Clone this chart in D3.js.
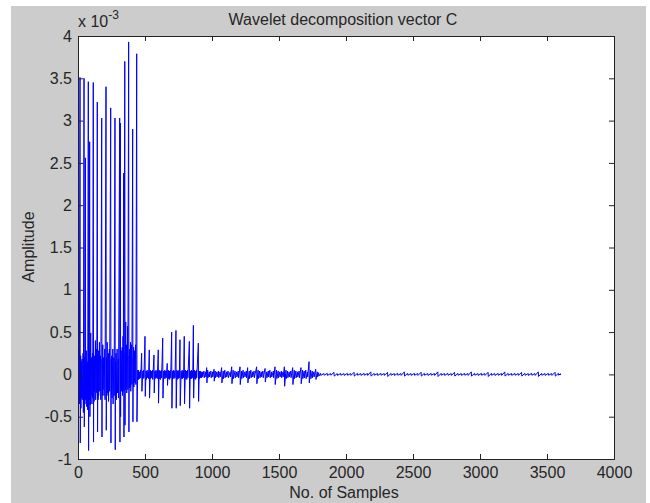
<!DOCTYPE html>
<html><head><meta charset="utf-8">
<script src="https://cdn.jsdelivr.net/npm/d3@7"></script>
<style>
html,body{margin:0;padding:0;background:#fff;}
svg text{font-family:"Liberation Sans",Arial,sans-serif;fill:#262626;}
</style></head>
<body><svg id="chart" width="650" height="503"></svg>
<script>
// ---- data: rows are [sample index, local max, local min], amplitude in units of 1e-3 ----
const xTicks = [0,500,1000,1500,2000,2500,3000,3500,4000];
const yTicks = [-1,-0.5,0,0.5,1,1.5,2,2.5,3,3.5,4];

// large approximation-coefficient spikes
const bigSpikes = [[15,3.51,-0.81],[45,3.50,-0.62],[55,2.56,-0.30],[77,3.46,-0.90],[87,2.75,-0.50],[114,3.45,-0.80],
  [144,3.22,-0.68],[177,3.03,-0.74],[209,3.40,-0.66],[244,3.15,-0.81],[276,3.03,-0.89],[311,3.03,-0.80],[316,2.97,-0.50],
  [341,2.38,-0.74],[349,3.70,-0.60],[378,3.93,-0.68],[408,2.90,-0.56],[438,3.79,-0.56]];

// medium spikes 450-900
const midSpikes = [[475,0.25,-0.20],[500,0.45,-0.26],[532,0.29,-0.28],[567,0.23,-0.22],[599,0.29,-0.34],[632,0.43,-0.28],
  [666,0.13,-0.13],[699,0.50,-0.40],[731,0.52,-0.40],[761,0.41,-0.37],[793,0.45,-0.35],[831,0.39,-0.40],[861,0.58,-0.28],[898,0.37,-0.32]];

// small spikes 900-1800
const smallSpikes = [[960,0.08,-0.10],[1015,0.06,-0.08],[1072,0.08,-0.10],[1147,0.09,-0.11],[1209,0.09,-0.12],[1266,0.08,-0.10],
  [1333,0.09,-0.11],[1396,0.07,-0.09],[1470,0.09,-0.12],[1540,0.09,-0.14],[1602,0.08,-0.12],[1664,0.08,-0.11],[1724,0.15,-0.10],[1774,0.06,-0.06]];

// background oscillation, 0-450
const band1 = [[0,0.10,-0.25],[5,0.22,-0.30],[8,0.30,-0.35],[20,0.22,-0.40],[25,0.15,-0.28],[30,0.18,-0.30],[38,0.25,-0.45],[50,0.20,-0.35],
  [62,0.28,-0.38],[66,0.12,-0.30],[70,0.15,-0.42],[82,0.30,-0.30],[90,0.18,-0.36],[95,0.49,-0.25],[102,0.20,-0.35],[108,0.25,-0.28],
  [118,0.15,-0.32],[122,0.22,-0.20],[130,0.40,-0.30],[138,0.30,-0.22],[148,0.20,-0.30],[152,0.28,-0.25],[160,0.38,-0.20],[168,0.22,-0.30],
  [180,0.18,-0.25],[185,0.35,-0.18],[192,0.20,-0.25],[200,0.30,-0.30],[214,0.20,-0.25],[218,0.38,-0.22],[226,0.25,-0.32],[234,0.30,-0.20],
  [248,0.18,-0.24],[252,0.22,-0.28],[260,0.30,-0.35],[268,0.20,-0.25],[280,0.15,-0.22],[284,0.25,-0.30],[292,0.30,-0.22],[300,0.18,-0.28],
  [318,0.20,-0.18],[322,0.28,-0.20],[330,0.32,-0.25],[336,0.45,-0.20],[352,0.25,-0.18],[356,0.62,-0.15],[362,0.35,-0.22],[370,0.57,-0.18],
  [382,0.22,-0.16],[386,0.30,-0.15],[392,0.38,-0.20],[400,0.35,-0.12],[412,0.20,-0.14],[415,0.32,-0.15],[422,0.28,-0.10],[430,0.35,-0.12],[446,0.05,-0.06]];

// background oscillation, 450-920
const band2 = [[450,0.05,-0.06],[458,0.03,-0.05],[466,0.05,-0.04],[484,0.04,-0.05],[490,0.05,-0.04],[508,0.04,-0.06],[516,0.05,-0.04],
  [524,0.03,-0.05],[540,0.05,-0.05],[548,0.04,-0.04],[556,0.05,-0.06],[574,0.04,-0.05],[582,0.05,-0.04],[590,0.04,-0.05],[606,0.05,-0.05],
  [614,0.04,-0.06],[622,0.05,-0.04],[640,0.04,-0.05],[648,0.05,-0.05],[656,0.04,-0.04],[674,0.05,-0.05],[682,0.04,-0.06],[690,0.05,-0.04],
  [706,0.04,-0.05],[714,0.05,-0.05],[722,0.04,-0.04],[738,0.05,-0.06],[746,0.04,-0.05],[754,0.05,-0.04],[770,0.04,-0.05],[778,0.05,-0.05],
  [786,0.04,-0.04],[802,0.05,-0.05],[810,0.04,-0.06],[818,0.05,-0.04],[838,0.04,-0.05],[846,0.05,-0.05],[854,0.04,-0.04],[868,0.05,-0.05],
  [876,0.04,-0.06],[884,0.05,-0.04],[905,0.04,-0.05],[912,0.04,-0.04],[920,0.03,-0.04]];

// background oscillation, 920-1800
const band3 = [[928,0.03,-0.03],[940,0.04,-0.04],[952,0.03,-0.03],[968,0.05,-0.04],[980,0.03,-0.03],[992,0.04,-0.04],[1004,0.03,-0.03],
  [1024,0.04,-0.04],[1036,0.03,-0.03],[1048,0.04,-0.04],[1060,0.03,-0.03],[1084,0.04,-0.05],[1096,0.05,-0.04],[1108,0.03,-0.03],
  [1120,0.04,-0.04],[1136,0.03,-0.03],[1158,0.05,-0.05],[1172,0.04,-0.04],[1184,0.03,-0.03],[1196,0.04,-0.04],[1220,0.04,-0.05],
  [1232,0.05,-0.04],[1244,0.03,-0.03],[1256,0.04,-0.04],[1278,0.04,-0.05],[1290,0.05,-0.04],[1302,0.03,-0.03],[1314,0.04,-0.04],
  [1344,0.05,-0.05],[1356,0.04,-0.04],[1368,0.03,-0.03],[1380,0.04,-0.04],[1408,0.03,-0.04],[1420,0.04,-0.03],[1432,0.05,-0.04],
  [1444,0.03,-0.03],[1458,0.04,-0.04],[1482,0.05,-0.05],[1494,0.04,-0.04],[1506,0.03,-0.03],[1518,0.04,-0.04],[1530,0.03,-0.03],
  [1552,0.05,-0.05],[1564,0.04,-0.04],[1576,0.03,-0.03],[1588,0.04,-0.04],[1614,0.05,-0.05],[1626,0.04,-0.04],[1638,0.03,-0.03],
  [1650,0.04,-0.04],[1676,0.05,-0.05],[1688,0.04,-0.04],[1700,0.05,-0.05],[1712,0.03,-0.03],[1736,0.05,-0.05],[1748,0.04,-0.04],
  [1760,0.03,-0.03],[1786,0.03,-0.03],[1796,0.02,-0.02]];

// background oscillation, 1800-3600
const band4 = [[1810,0.012,-0.012],[1835,0.010,-0.010],[1860,0.012,-0.012],[1885,0.010,-0.010],[1910,0.025,-0.020],[1935,0.010,-0.012],
  [1960,0.012,-0.010],[1985,0.010,-0.012],[2010,0.012,-0.010],[2035,0.010,-0.012],[2060,0.025,-0.020],[2085,0.012,-0.010],
  [2110,0.010,-0.012],[2135,0.012,-0.010],[2160,0.010,-0.012],[2185,0.030,-0.020],[2210,0.012,-0.010],[2235,0.010,-0.012],
  [2260,0.012,-0.010],[2285,0.010,-0.012],[2310,0.025,-0.025],[2335,0.012,-0.010],[2360,0.010,-0.012],[2385,0.012,-0.010],
  [2410,0.010,-0.012],[2435,0.030,-0.020],[2460,0.012,-0.010],[2485,0.010,-0.012],[2510,0.012,-0.010],[2535,0.010,-0.012],
  [2560,0.025,-0.020],[2585,0.012,-0.010],[2610,0.010,-0.012],[2635,0.012,-0.010],[2660,0.010,-0.012],[2685,0.030,-0.025],
  [2710,0.012,-0.010],[2735,0.010,-0.012],[2760,0.012,-0.010],[2785,0.010,-0.012],[2810,0.025,-0.020],[2835,0.012,-0.010],
  [2860,0.010,-0.012],[2885,0.012,-0.010],[2910,0.010,-0.012],[2935,0.030,-0.020],[2960,0.012,-0.010],[2985,0.010,-0.012],
  [3010,0.012,-0.010],[3035,0.010,-0.012],[3060,0.025,-0.025],[3085,0.012,-0.010],[3110,0.010,-0.012],[3135,0.012,-0.010],
  [3160,0.010,-0.012],[3185,0.030,-0.020],[3210,0.012,-0.010],[3235,0.010,-0.012],[3260,0.012,-0.010],[3285,0.010,-0.012],
  [3310,0.025,-0.020],[3335,0.012,-0.010],[3360,0.010,-0.012],[3385,0.012,-0.010],[3410,0.010,-0.012],[3435,0.030,-0.025],
  [3460,0.012,-0.010],[3485,0.010,-0.012],[3510,0.012,-0.010],[3535,0.010,-0.012],[3560,0.025,-0.020],[3585,0.012,-0.010],[3600,0.008,-0.008]];

const titleText = "Wavelet decomposition vector C";
const xLabel = "No. of Samples";
const yLabel = "Amplitude";

// ---- layout ----
const svg = d3.select("#chart");
const L = 78, R = 614, T = 36, B = 459;
svg.append("rect").attr("x",11).attr("y",6).attr("width",635).attr("height",497).attr("fill","#cccccc");
svg.append("rect").attr("x",L).attr("y",T).attr("width",R-L).attr("height",B-T).attr("fill","#fff");

const x = d3.scaleLinear().domain([0,4000]).range([L,R]);
const y = d3.scaleLinear().domain([-1,4]).range([B,T]);

// merge all rows into one signal path (each row: up to max, down to min)
const entries = [].concat(bigSpikes, midSpikes, smallSpikes, band1, band2, band3, band4).sort((a,b)=>a[0]-b[0]);
const pts = [];
entries.forEach(e=>{pts.push([e[0],e[1]]);pts.push([e[0]+2,e[2]]);});

svg.append("clipPath").attr("id","pc").append("rect").attr("x",L).attr("y",T).attr("width",R-L).attr("height",B-T);
svg.append("path").datum(pts)
  .attr("clip-path","url(#pc)")
  .attr("fill","none").attr("stroke","#0000ff").attr("stroke-width",1)
  .attr("d",d3.line().x(d=>x(d[0])).y(d=>y(d[1])));

// axes (MATLAB-style box with inward ticks)
const gx = svg.append("g").attr("transform",`translate(0,${B})`)
  .call(d3.axisBottom(x).tickValues(xTicks).tickSize(-5).tickPadding(8).tickFormat(d3.format("d")));
const gxt = svg.append("g").attr("transform",`translate(0,${T})`)
  .call(d3.axisTop(x).tickValues(xTicks).tickSize(-5).tickFormat(""));
const gy = svg.append("g").attr("transform",`translate(${L},0)`)
  .call(d3.axisLeft(y).tickValues(yTicks).tickSize(-5).tickPadding(6).tickFormat(d=>String(d)));
const gyr = svg.append("g").attr("transform",`translate(${R},0)`)
  .call(d3.axisRight(y).tickValues(yTicks).tickSize(-5).tickFormat(""));
[gx,gxt,gy,gyr].forEach(g=>{
  g.selectAll("path.domain").attr("stroke","#222").attr("stroke-width",1);
  g.selectAll("line").attr("stroke","#222");
  g.selectAll("text").style("font-size","16px").attr("fill","#262626");
});

// texts
svg.append("text").attr("x",343).attr("y",25).attr("text-anchor","middle").style("font-size","16px").text(titleText);
svg.append("text").attr("x",344).attr("y",498).attr("text-anchor","middle").style("font-size","16px").text(xLabel);
svg.append("text").attr("transform","translate(34,247) rotate(-90)").attr("text-anchor","middle").style("font-size","16px").text(yLabel);
const ex = svg.append("text").attr("x",78).attr("y",27).style("font-size","16px");
ex.append("tspan").text("x 10");
ex.append("tspan").attr("dy",-8).style("font-size","12px").text("-3");
</script></body></html>
